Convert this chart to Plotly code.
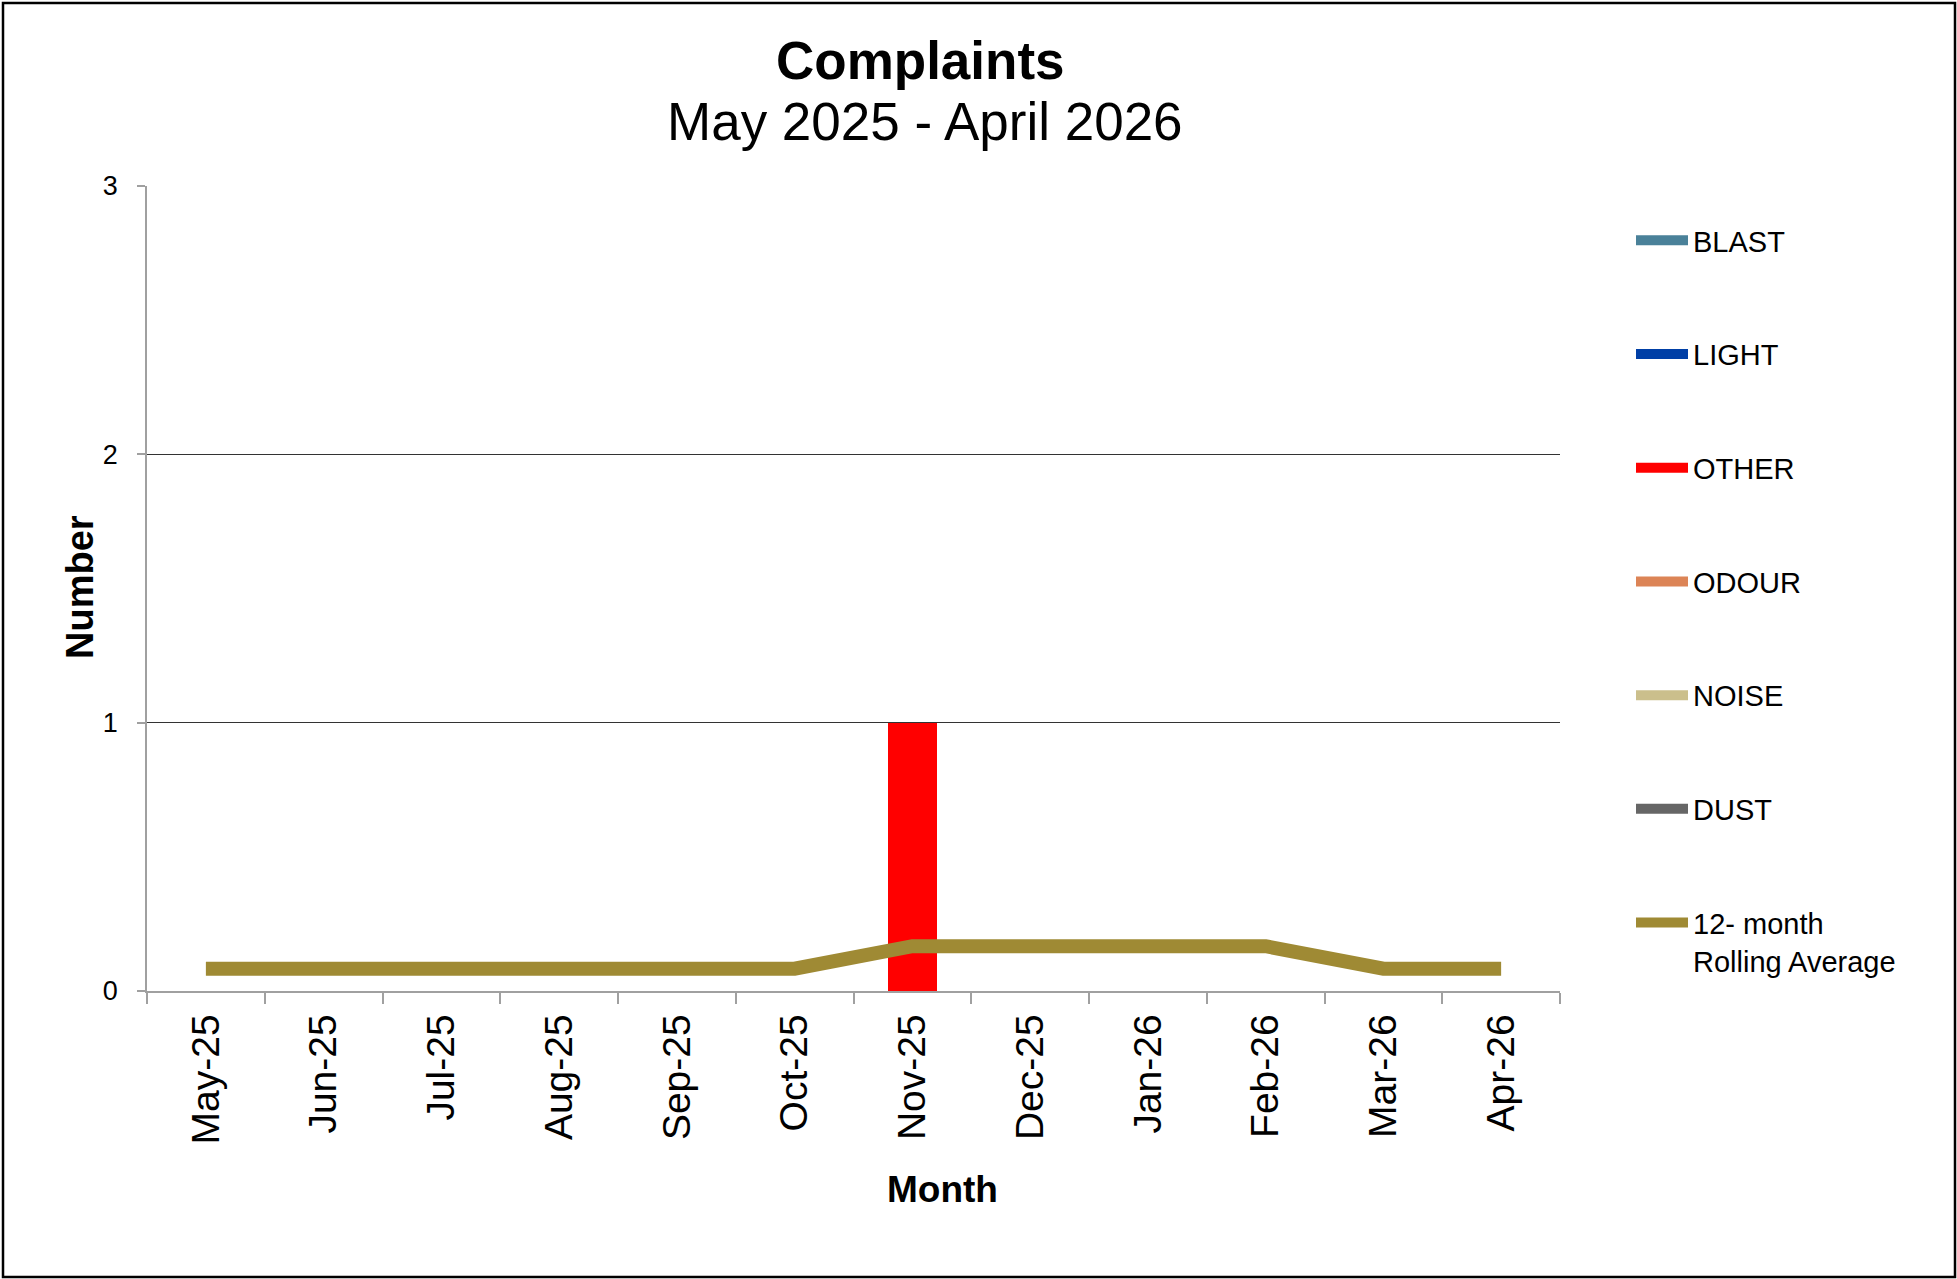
import plotly.graph_objects as go

W, H = 1957, 1279
# plot area in pixels (left, top, right, bottom)
PL, PT, PR, PB = 147, 186, 1560, 991
PW, PH = PR - PL, PB - PT

MONTHS = ["May-25", "Jun-25", "Jul-25", "Aug-25", "Sep-25", "Oct-25",
          "Nov-25", "Dec-25", "Jan-26", "Feb-26", "Mar-26", "Apr-26"]
BLAST = [0, 0, 0, 0, 0, 0, 0, 0, 0, 0, 0, 0]
LIGHT = [0, 0, 0, 0, 0, 0, 0, 0, 0, 0, 0, 0]
OTHER = [0, 0, 0, 0, 0, 0, 1, 0, 0, 0, 0, 0]
ODOUR = [0, 0, 0, 0, 0, 0, 0, 0, 0, 0, 0, 0]
NOISE = [0, 0, 0, 0, 0, 0, 0, 0, 0, 0, 0, 0]
DUST = [0, 0, 0, 0, 0, 0, 0, 0, 0, 0, 0, 0]
ROLLING = [0.083, 0.083, 0.083, 0.083, 0.083, 0.083,
           0.167, 0.167, 0.167, 0.167, 0.083, 0.083]

SERIES = [
    ("BLAST", BLAST, "#4a8199"),
    ("LIGHT", LIGHT, "#003fa6"),
    ("OTHER", OTHER, "#ff0000"),
    ("ODOUR", ODOUR, "#dc8456"),
    ("NOISE", NOISE, "#cbbf8c"),
    ("DUST", DUST, "#666666"),
]
ROLL_COLOR = "#9f8a34"
FONT = "Liberation Sans, Arial, sans-serif"


def px_x(x):
    return (x - PL) / PW


def px_y(y):
    return (PB - y) / PH


fig = go.Figure()

for name, vals, col in SERIES:
    fig.add_trace(go.Bar(x=MONTHS, y=vals, marker=dict(color=col, line=dict(width=0)),
                         name=name, showlegend=False, hoverinfo="x+y+name"))
    # legend swatch as a thick short line, like the Excel legend
    fig.add_trace(go.Scatter(x=[None], y=[None], mode="lines", name=name,
                             line=dict(color=col, width=15), legendgroup=name))

fig.add_trace(go.Scatter(x=MONTHS, y=ROLLING, mode="lines",
                         name="12- month<br>Rolling Average",
                         line=dict(color=ROLL_COLOR, width=14),
                         legendgroup="roll"))

# titles
fig.add_annotation(x=px_x(920), y=px_y(60), xref="paper", yref="paper",
                   xanchor="center", yanchor="middle",
                   text="<b>Complaints</b>", showarrow=False,
                   font=dict(size=53, color="black", family=FONT))
fig.add_annotation(x=px_x(925), y=px_y(122), xref="paper", yref="paper",
                   xanchor="center", yanchor="middle",
                   text="May 2025 - April 2026", showarrow=False,
                   font=dict(size=53, color="black", family=FONT))
# axis titles
fig.add_annotation(x=px_x(80), y=px_y(587), xref="paper", yref="paper",
                   xanchor="center", yanchor="middle",
                   text="<b>Number</b>", showarrow=False, textangle=-90,
                   font=dict(size=38, color="black", family=FONT))
fig.add_annotation(x=px_x(942), y=px_y(1189), xref="paper", yref="paper",
                   xanchor="center", yanchor="middle",
                   text="<b>Month</b>", showarrow=False,
                   font=dict(size=37, color="black", family=FONT))

# outer frame
fig.add_shape(type="rect", xref="paper", yref="paper",
              x0=px_x(3), x1=px_x(1955), y0=px_y(3), y1=px_y(1277),
              line=dict(color="black", width=2.5), fillcolor="rgba(0,0,0,0)")

fig.update_layout(
    width=W, height=H,
    margin=dict(l=PL, r=W - PR, t=PT, b=H - PB, autoexpand=False),
    paper_bgcolor="white", plot_bgcolor="white",
    barmode="stack", bargap=0.59,
    font=dict(family=FONT, color="black"),
    showlegend=True,
    legend=dict(x=px_x(1631), y=px_y(215), xanchor="left", yanchor="top",
                font=dict(size=29, color="black", family=FONT),
                itemwidth=52, tracegroupgap=73, valign="top",
                bgcolor="rgba(0,0,0,0)", traceorder="grouped"),
    xaxis=dict(type="category", tickangle=-90, tickson="boundaries",
               ticks="outside", ticklen=11, tickcolor="#a0a0a0", tickwidth=1.5,
               showline=True, linecolor="#a0a0a0", linewidth=1.5,
               showgrid=False, tickfont=dict(size=39, family=FONT),
               ticklabelstandoff=6, fixedrange=True),
    yaxis=dict(range=[0, 3], dtick=1, tick0=0, ticks="outside", ticklen=8,
               tickcolor="#a0a0a0", tickwidth=1.5, showline=True,
               linecolor="#a0a0a0", linewidth=1.5, showgrid=True,
               gridcolor="#333333", gridwidth=1, zeroline=False,
               tickfont=dict(size=27, family=FONT), ticklabelstandoff=14,
               fixedrange=True),
)

fig.write_html("out.html", config={"displayModeBar": False},
               post_script="document.body.style.margin='0px';")
